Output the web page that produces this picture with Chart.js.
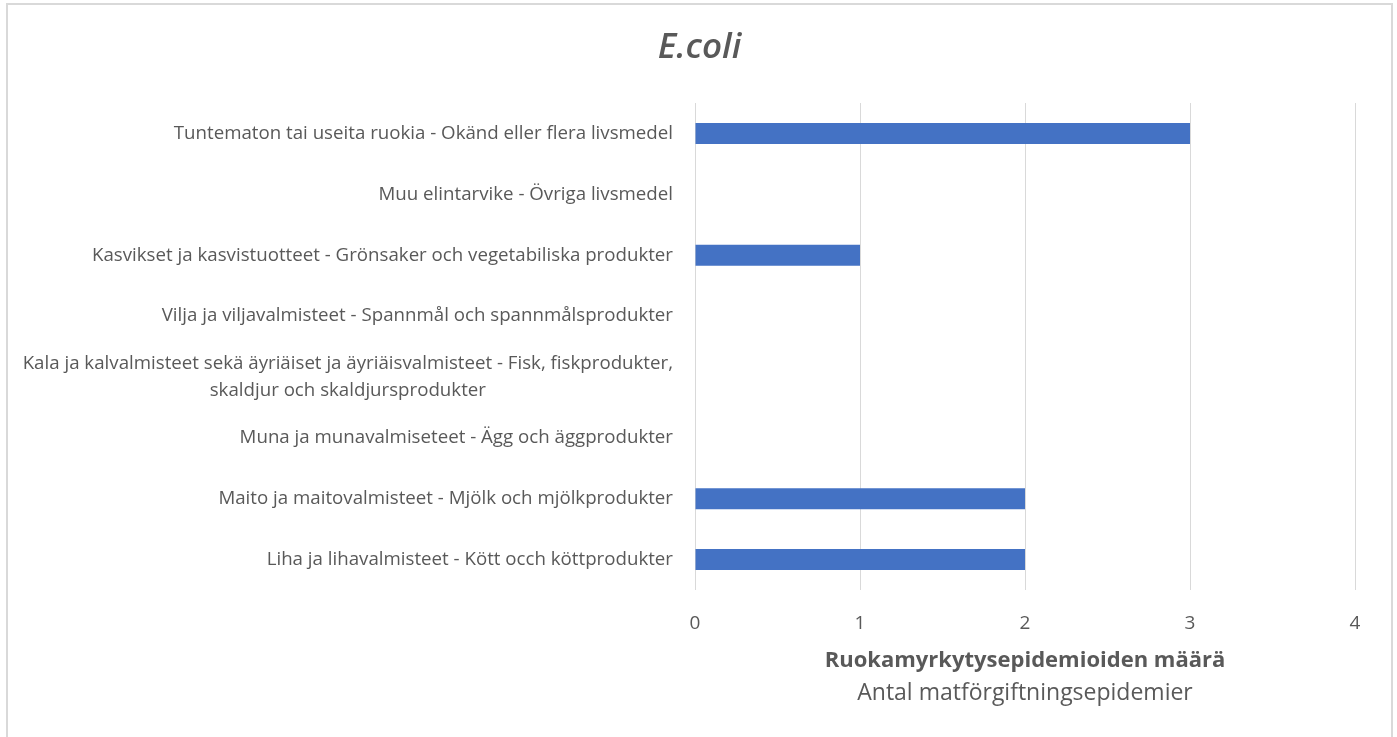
<!DOCTYPE html>
<html>
<head>
<meta charset="utf-8">
<script src="https://cdn.jsdelivr.net/npm/chart.js@4"></script>
<style>
  body { margin: 0; background: #fff; }
  .wrap { position: absolute; left: 6px; top: 3px; width: 1383px; height: 800px; border: 2px solid #d9d9d9; }
  canvas { display: block; }
</style>
</head>
<body>
<div class="wrap"><canvas id="chart1" width="1383" height="732"></canvas></div>
<script>
const categories = [
    'Tuntematon tai useita ruokia - Okänd eller flera livsmedel',
    'Muu elintarvike - Övriga livsmedel',
    'Kasvikset ja kasvistuotteet - Grönsaker och vegetabiliska produkter',
    'Vilja ja viljavalmisteet - Spannmål och spannmålsprodukter',
    ['Kala ja kalvalmisteet sekä äyriäiset ja äyriäisvalmisteet - Fisk, fiskprodukter,', 'skaldjur och skaldjursprodukter'],
    'Muna ja munavalmiseteet - Ägg och äggprodukter',
    'Maito ja maitovalmisteet - Mjölk och mjölkprodukter',
    'Liha ja lihavalmisteet - Kött occh köttprodukter'
];
const outbreaks = [3, 0, 1, 0, 0, 0, 2, 2];
const chartTitle = 'E.coli';
const axisTitle = ['Ruokamyrkytysepidemioiden määrä', 'Antal matförgiftningsepidemier'];

const textColor = '#595959';
const fontFamily = "'Open Sans', sans-serif";

// category labels: right aligned block, lines centred inside it (like the original)
const yLabels = {
    id: 'yLabels',
    afterDraw(chart) {
        const ctx = chart.ctx;
        const y = chart.scales.y;
        const right = chart.chartArea.left - 22;
        ctx.save();
        ctx.font = `18.7px ${fontFamily}`;
        ctx.fillStyle = textColor;
        ctx.textBaseline = 'middle';
        ctx.textAlign = 'center';
        categories.forEach((lab, i) => {
            const lines = Array.isArray(lab) ? lab : [lab];
            const w = Math.max(...lines.map(l => ctx.measureText(l).width));
            const py = y.getPixelForTick(i);
            lines.forEach((l, j) => {
                ctx.fillText(l, right - w / 2, py + (j - (lines.length - 1) / 2) * 27);
            });
        });
        ctx.restore();
    }
};

const xTitle = {
    id: 'xTitle',
    afterDraw(chart) {
        const ctx = chart.ctx;
        const x = chart.scales.x;
        const cx = (chart.chartArea.left + chart.chartArea.right) / 2;
        ctx.save();
        ctx.fillStyle = textColor;
        ctx.textAlign = 'center';
        ctx.textBaseline = 'middle';
        ctx.font = `bold 22px ${fontFamily}`;
        ctx.fillText(axisTitle[0], cx, x.top + 71);
        ctx.font = `23px ${fontFamily}`;
        ctx.fillText(axisTitle[1], cx, x.top + 103);
        ctx.restore();
    }
};

new Chart('chart1', {
    type: 'bar',
    data: {
        labels: categories,
        datasets: [{
            label: chartTitle,
            data: outbreaks,
            backgroundColor: '#4472c4',
            borderWidth: 0,
            inflateAmount: 0,
            barThickness: 21
        }]
    },
    options: {
        indexAxis: 'y',
        responsive: false,
        animation: false,
        layout: { padding: { left: 36, right: 36, top: 0, bottom: 0 } },
        plugins: {
            legend: { display: false },
            tooltip: { enabled: false },
            title: {
                display: true,
                text: chartTitle,
                color: textColor,
                font: { family: fontFamily, size: 35, style: 'italic', weight: '600' },
                padding: { top: 22, bottom: 34 }
            }
        },
        scales: {
            x: {
                min: 0,
                max: 4,
                ticks: { stepSize: 1, color: textColor, padding: 22, font: { family: fontFamily, size: 19 } },
                grid: { color: '#d9d9d9', drawTicks: false },
                border: { display: false },
                afterFit: s => { s.height = 147; }
            },
            y: {
                ticks: { display: false },
                grid: { display: false },
                border: { display: false },
                afterFit: s => { s.width = 651; }
            }
        }
    },
    plugins: [yLabels, xTitle]
});
</script>
</body>
</html>
